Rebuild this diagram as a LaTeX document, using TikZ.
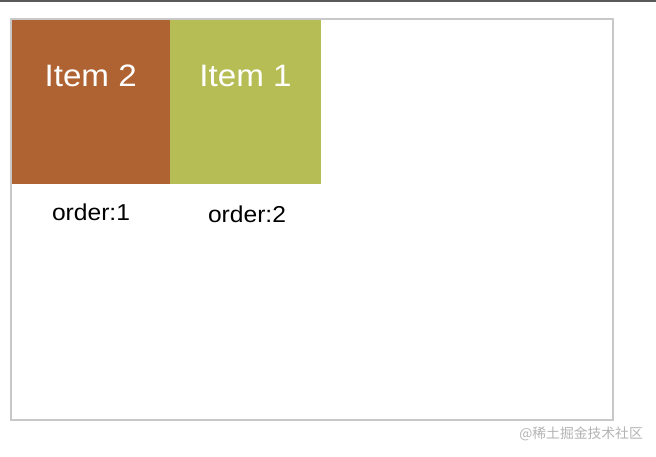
\documentclass[tikz,border=0pt]{standalone}
\usepackage{fontspec}
\setmainfont{Liberation Sans}
\newfontfamily\widesans[FakeStretch=1.07]{Liberation Sans}
\newfontfamily\cjk{Noto Sans CJK SC}
\definecolor{itemtwo}{HTML}{B06332}
\definecolor{itemone}{HTML}{B7BD55}
\definecolor{framegray}{HTML}{C8C8C8}
\definecolor{topbar}{HTML}{595959}
\definecolor{wmgray}{HTML}{B4B4B4}
\begin{document}
\begin{tikzpicture}[x=1pt,y=-1pt,
  itemtext/.style={text=white,font=\widesans\fontsize{31}{31}\selectfont,anchor=base},
  ordertext/.style={text=black,font=\widesans\fontsize{23}{23}\selectfont,anchor=base}]
\useasboundingbox (0,0) rectangle (656,456);
\fill[white] (0,0) rectangle (656,456);
\fill[topbar] (0,0) rectangle (656,2);
\draw[framegray,line width=1.6pt] (11,19) rectangle (613,420);
\fill[itemtwo] (11.8,19.8) rectangle (170,184);
\fill[itemone] (170,19.8) rectangle (321,184);
\node[itemtext] (i2) at (90.7,86) {Item 2};
\node[itemtext] (i1) at (245.5,86) {Item 1};
\node[ordertext] (o1) at (91,220) {order:1};
\node[ordertext] (o2) at (247,222.3) {order:2};
\node[text=wmgray,font=\cjk\fontsize{13.8}{13.8}\selectfont,anchor=east,inner sep=0pt] (wm) at (643,434) {@稀土掘金技术社区};
\end{tikzpicture}
\end{document}
